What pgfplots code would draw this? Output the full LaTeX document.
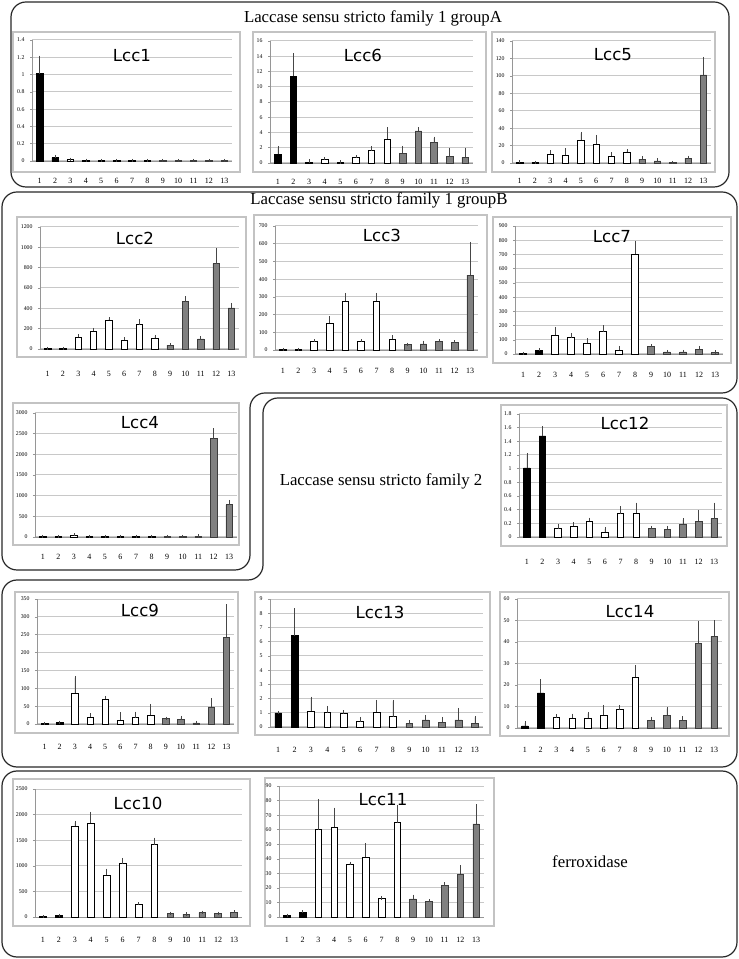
\documentclass[border=0pt]{standalone}
\usepackage{fontspec}
\setmainfont{Liberation Serif}
\newfontfamily\titlefont{DejaVu Sans}
\usepackage{pgfplots}
\pgfplotsset{compat=1.18}

\definecolor{gridc}{RGB}{200,200,200}
\definecolor{framec}{RGB}{195,195,195}
\definecolor{axc}{RGB}{150,150,150}
\definecolor{barg}{RGB}{128,128,128}
\definecolor{bargd}{RGB}{60,60,60}
\definecolor{errc}{RGB}{70,70,70}
\definecolor{boxc}{RGB}{40,40,40}

\pgfplotsset{
  lcc/.style={
    ybar, scale only axis, anchor=south west,
    xmin=0.5, xmax=13.5, ymin=0,
    xtick={1,...,13},
    axis x line*=bottom, axis y line*=left,
    axis line style={axc, line width=0.8pt},
    ymajorgrids, grid style={gridc, line width=1pt},
    xtick style={draw=none}, ytick style={axc, line width=0.5pt},
    tick align=outside, major tick length=2pt,
    scaled y ticks=false,
    /pgf/number format/1000 sep={},
    /pgf/number format/assume math mode=true,
    yticklabel style={font=\fontsize{5.8}{7}\selectfont, xshift=-2pt},
    xticklabel style={font=\fontsize{8}{9}\selectfont, anchor=center},
    clip=false,
  },
  eb/.style={error bars/.cd, y dir=plus, y explicit,
    error bar style={errc, line width=0.6pt},
    error mark options={errc, mark size=1.6pt, line width=0.6pt}},
  blk/.style={fill=black, draw=black, line width=0.5pt, bar width=0.42, bar shift=0pt, eb},
  wht/.style={fill=white, draw=black, line width=0.6pt, bar width=0.42, bar shift=0pt, eb},
  gry/.style={fill=barg, draw=bargd, line width=0.6pt, bar width=0.42, bar shift=0pt, eb},
}

\newcommand{\ttl}[3]{\node[font=\titlefont\fontsize{16.6}{18}\selectfont] at (#1pt,#2pt) {#3};}
\newcommand{\frm}[4]{\draw[framec, line width=1.2pt] (#1pt,#2pt) rectangle (#3pt,#4pt);}

\begin{document}
\begin{tikzpicture}
\path[use as bounding box] (0pt,0pt) rectangle (739pt,959pt);

% outer group boxes
\draw[boxc, line width=1.2pt, rounded corners=15pt] (11pt,957pt) rectangle (729pt,772pt);
\draw[boxc, line width=1.2pt, rounded corners=15pt] (2pt,767pt) -- (737pt,767pt) -- (737pt,566pt) -- (250pt,566pt) -- (250pt,389pt) -- (2pt,389pt) -- cycle;
\draw[boxc, line width=1.2pt, rounded corners=15pt] (263pt,561pt) -- (737pt,561pt) -- (737pt,192pt) -- (2pt,192pt) -- (2pt,379pt) -- (263pt,379pt) -- cycle;
\draw[boxc, line width=1.2pt, rounded corners=15pt] (2pt,188pt) rectangle (737pt,2pt);

\node[font=\fontsize{16.8}{19}\selectfont] at (373pt,941pt) {Laccase sensu stricto family 1 groupA};
\node[font=\fontsize{16.8}{19}\selectfont] at (379pt,759pt) {Laccase sensu stricto family 1 groupB};
\node[font=\fontsize{16.8}{19}\selectfont] at (381pt,478pt) {Laccase sensu stricto family 2};
\node[font=\fontsize{16.8}{19}\selectfont] at (590pt,97pt) {ferroxidase};

% chart frames
\frm{13}{927}{240}{787}
\frm{253}{927}{486}{787}
\frm{492}{927}{715}{787}
\frm{17}{742}{246}{602}
\frm{254}{744}{487}{602}
\frm{493}{742}{731}{596}
\frm{13}{556}{239}{414}
\frm{501}{554}{727}{413}
\frm{15}{367}{238}{226}
\frm{255}{367}{490}{224}
\frm{500}{367}{729}{223}
\frm{13}{180}{250}{33}
\frm{265}{181}{494}{33}

% Lcc1
\begin{axis}[lcc, at={(32pt,798pt)}, width=200pt, height=121pt, ymax=1.4,
  ytick={0,0.2,0.4,0.6,0.8,1,1.2,1.4}, xticklabel style={yshift=-18pt}]
\addplot[blk] coordinates {(1,1.01) +- (0,0.19) (2,0.04) +- (0,0.012)};
\addplot[wht] coordinates {(3,0.015) +- (0,0.004) (4,0.008) +- (0,0.002) (5,0.004) +- (0,0.001) (6,0.004) +- (0,0.001) (7,0.004) +- (0,0.001) (8,0.004) +- (0,0.001)};
\addplot[gry] coordinates {(9,0.004) +- (0,0.001) (10,0.004) +- (0,0.001) (11,0.004) +- (0,0.001) (12,0.004) +- (0,0.001) (13,0.004) +- (0,0.001)};
\end{axis}
\ttl{132}{903}{Lcc1}

% Lcc6
\begin{axis}[lcc, at={(270pt,796pt)}, width=203pt, height=122pt, ymax=16,
  ytick={0,2,...,16}, xticklabel style={yshift=-17pt}]
\addplot[blk] coordinates {(1,1.15) +- (0,0.85) (2,11.4) +- (0,2.8)};
\addplot[wht] coordinates {(3,0.15) +- (0,0.12) (4,0.5) +- (0,0.08) (5,0.1) +- (0,0.03) (6,0.7) +- (0,0.12) (7,1.6) +- (0,0.4) (8,3.15) +- (0,1.3)};
\addplot[gry] coordinates {(9,1.25) +- (0,0.8) (10,4.2) +- (0,0.25) (11,2.65) +- (0,0.6) (12,0.85) +- (0,0.9) (13,0.75) +- (0,1.05)};
\end{axis}
\ttl{363}{904}{Lcc6}

% Lcc5
\begin{axis}[lcc, at={(512pt,796pt)}, width=199pt, height=122pt, ymax=140,
  ytick={0,20,...,140}, xticklabel style={yshift=-16pt}]
\addplot[blk] coordinates {(1,1) +- (0,0.5) (2,0.5) +- (0,0.2)};
\addplot[wht] coordinates {(3,10.5) +- (0,2) (4,9) +- (0,6) (5,26) +- (0,8) (6,21.5) +- (0,9) (7,8) +- (0,2.5) (8,12.5) +- (0,1.5)};
\addplot[gry] coordinates {(9,4.5) +- (0,1.5) (10,2.5) +- (0,1) (11,0.5) +- (0,0.2) (12,5.5) +- (0,1) (13,101) +- (0,19)};
\end{axis}
\ttl{613}{904}{Lcc5}

% Lcc2
\begin{axis}[lcc, at={(40pt,610pt)}, width=199pt, height=122pt, ymax=1200,
  ytick={0,200,...,1200}, xticklabel style={yshift=-23pt}]
\addplot[blk] coordinates {(1,3) +- (0,1) (2,3) +- (0,1)};
\addplot[wht] coordinates {(3,115) +- (0,15) (4,175) +- (0,18) (5,285) +- (0,12) (6,88) +- (0,12) (7,240) +- (0,38) (8,105) +- (0,18)};
\addplot[gry] coordinates {(9,38) +- (0,5) (10,465) +- (0,40) (11,100) +- (0,8) (12,838) +- (0,138) (13,405) +- (0,32)};
\end{axis}
\ttl{135}{721}{Lcc2}

% Lcc3
\begin{axis}[lcc, at={(275pt,609pt)}, width=203pt, height=124pt, ymax=700,
  ytick={0,100,...,700}, xticklabel style={yshift=-19pt}]
\addplot[blk] coordinates {(1,2) +- (0,1) (2,2) +- (0,1)};
\addplot[wht] coordinates {(3,47) +- (0,5) (4,152) +- (0,30) (5,277) +- (0,37) (6,47) +- (0,6) (7,277) +- (0,37) (8,60) +- (0,15)};
\addplot[gry] coordinates {(9,30) +- (0,3) (10,34) +- (0,10) (11,47) +- (0,6) (12,43) +- (0,4) (13,422) +- (0,180)};
\end{axis}
\ttl{382}{724}{Lcc3}

% Lcc7
\begin{axis}[lcc, at={(515pt,605pt)}, width=208pt, height=128pt, ymax=900,
  ytick={0,100,...,900}, xticklabel style={yshift=-19pt}]
\addplot[blk] coordinates {(1,3) +- (0,1) (2,28) +- (0,3)};
\addplot[wht] coordinates {(3,131) +- (0,49) (4,115) +- (0,23) (5,75) +- (0,23) (6,157) +- (0,35) (7,28) +- (0,17) (8,700) +- (0,85)};
\addplot[gry] coordinates {(9,52) +- (0,5) (10,15) +- (0,3) (11,15) +- (0,2) (12,35) +- (0,10) (13,12) +- (0,2)};
\end{axis}
\ttl{612}{722}{Lcc7}

% Lcc4
\begin{axis}[lcc, at={(35pt,422pt)}, width=202pt, height=124pt, ymax=3000,
  ytick={0,500,...,3000}, xticklabel style={yshift=-18pt}]
\addplot[blk] coordinates {(1,10) +- (0,2) (2,10) +- (0,2)};
\addplot[wht] coordinates {(3,40) +- (0,15) (4,10) +- (0,2) (5,10) +- (0,2) (6,10) +- (0,2) (7,10) +- (0,2) (8,10) +- (0,2)};
\addplot[gry] coordinates {(9,10) +- (0,2) (10,10) +- (0,2) (11,20) +- (0,5) (12,2380) +- (0,210) (13,780) +- (0,80)};
\end{axis}
\ttl{140}{536}{Lcc4}

% Lcc12
\begin{axis}[lcc, at={(519pt,422pt)}, width=203pt, height=123pt, ymax=1.8,
  ytick={0,0.2,0.4,0.6,0.8,1,1.2,1.4,1.6,1.8}, xticklabel style={yshift=-23pt}]
\addplot[blk] coordinates {(1,1.01) +- (0,0.19) (2,1.48) +- (0,0.12)};
\addplot[wht] coordinates {(3,0.12) +- (0,0.05) (4,0.16) +- (0,0.03) (5,0.23) +- (0,0.03) (6,0.07) +- (0,0.05) (7,0.34) +- (0,0.09) (8,0.35) +- (0,0.13)};
\addplot[gry] coordinates {(9,0.12) +- (0,0.02) (10,0.11) +- (0,0.03) (11,0.19) +- (0,0.06) (12,0.23) +- (0,0.14) (13,0.27) +- (0,0.21)};
\end{axis}
\ttl{625}{536}{Lcc12}

% Lcc9
\begin{axis}[lcc, at={(37pt,235pt)}, width=197pt, height=125pt, ymax=350,
  ytick={0,50,...,350}, xticklabel style={yshift=-21pt}]
\addplot[blk] coordinates {(1,1) +- (0,0.5) (2,4) +- (0,1)};
\addplot[wht] coordinates {(3,87) +- (0,43) (4,20) +- (0,6) (5,69) +- (0,5) (6,11) +- (0,17) (7,18) +- (0,12) (8,24) +- (0,28)};
\addplot[gry] coordinates {(9,15) +- (0,1) (10,12) +- (0,6) (11,3) +- (0,1) (12,48) +- (0,19) (13,243) +- (0,88)};
\end{axis}
\ttl{140}{349}{Lcc9}

% Lcc13
\begin{axis}[lcc, at={(270pt,232pt)}, width=213pt, height=128pt, ymax=9,
  ytick={0,1,...,9}, xticklabel style={yshift=-21pt}]
\addplot[blk] coordinates {(1,1) +- (0,0) (2,6.42) +- (0,1.8)};
\addplot[wht] coordinates {(3,1.12) +- (0,0.9) (4,1.0) +- (0,0.38) (5,0.93) +- (0,0.15) (6,0.38) +- (0,0.22) (7,1.05) +- (0,0.75) (8,0.72) +- (0,1.08)};
\addplot[gry] coordinates {(9,0.25) +- (0,0.1) (10,0.5) +- (0,0.2) (11,0.35) +- (0,0.25) (12,0.5) +- (0,0.74) (13,0.25) +- (0,0.42)};
\end{axis}
\ttl{380}{347}{Lcc13}

% Lcc14
\begin{axis}[lcc, at={(517pt,231pt)}, width=205pt, height=129pt, ymax=60,
  ytick={0,10,...,60}, xticklabel style={yshift=-20pt}]
\addplot[blk] coordinates {(1,1) +- (0,1.3) (2,16.3) +- (0,5.7)};
\addplot[wht] coordinates {(3,5) +- (0,0.6) (4,4.7) +- (0,1.2) (5,4.5) +- (0,2.2) (6,6) +- (0,4) (7,8.5) +- (0,1.3) (8,23.7) +- (0,4.7)};
\addplot[gry] coordinates {(9,3.5) +- (0,1) (10,6) +- (0,3) (11,3.7) +- (0,1) (12,39.2) +- (0,9.6) (13,42.6) +- (0,6.7)};
\end{axis}
\ttl{630}{347}{Lcc14}

% Lcc10
\begin{axis}[lcc, at={(35pt,42pt)}, width=207pt, height=128pt, ymax=2500,
  ytick={0,500,...,2500}, xticklabel style={yshift=-21pt}]
\addplot[blk] coordinates {(1,5) +- (0,2) (2,25) +- (0,5)};
\addplot[wht] coordinates {(3,1775) +- (0,70) (4,1828) +- (0,195) (5,816) +- (0,98) (6,1044) +- (0,79) (7,241) +- (0,20) (8,1416) +- (0,105)};
\addplot[gry] coordinates {(9,70) +- (0,5) (10,55) +- (0,5) (11,85) +- (0,8) (12,70) +- (0,5) (13,90) +- (0,10)};
\end{axis}
\ttl{138}{156}{Lcc10}

% Lcc11
\begin{axis}[lcc, at={(279pt,42pt)}, width=205pt, height=131pt, ymax=90,
  ytick={0,10,...,90}, xticklabel style={yshift=-21pt}]
\addplot[blk] coordinates {(1,1) +- (0,0.2) (2,3.2) +- (0,0.5)};
\addplot[wht] coordinates {(3,60) +- (0,20) (4,61.6) +- (0,12.4) (5,36.2) +- (0,0.8) (6,41.2) +- (0,8.5) (7,12.6) +- (0,0.5) (8,64.8) +- (0,11.2)};
\addplot[gry] coordinates {(9,12.5) +- (0,1.8) (10,10.8) +- (0,0.4) (11,21.6) +- (0,1.3) (12,29.3) +- (0,5.3) (13,63.9) +- (0,12.4)};
\end{axis}
\ttl{383}{159}{Lcc11}

\end{tikzpicture}
\end{document}
